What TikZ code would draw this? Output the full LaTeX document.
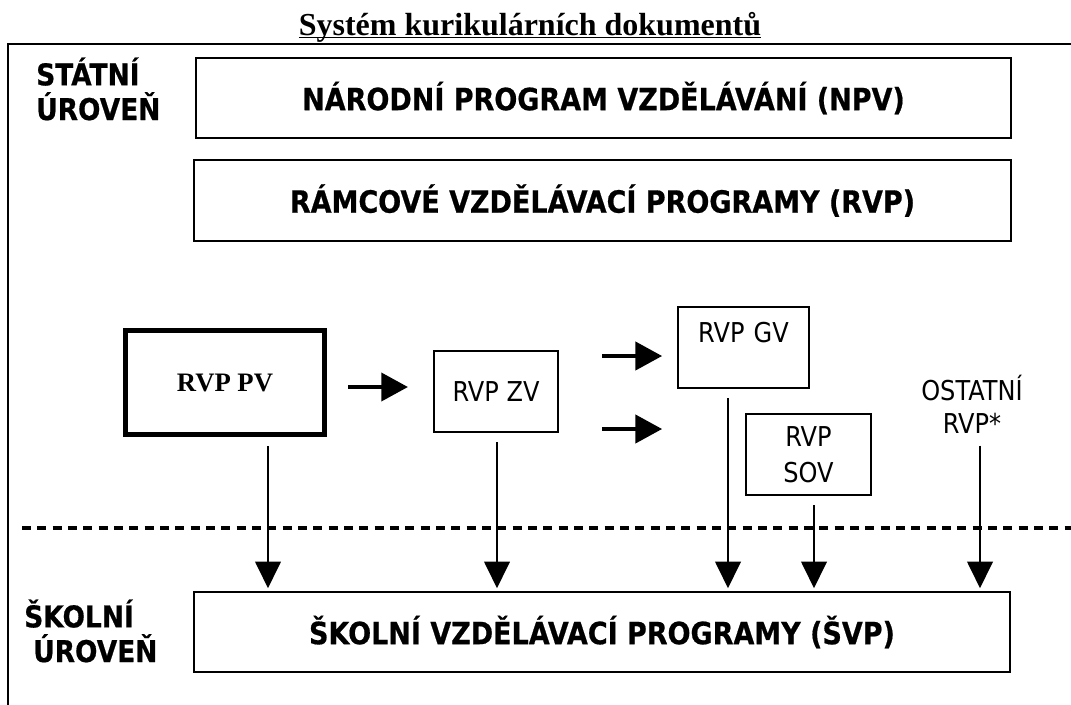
\documentclass[tikz,border=0pt]{standalone}
\usepackage{fontspec}
\setmainfont{Liberation Serif}
\newfontfamily\tahoma[FakeStretch=0.88, BoldFeatures={FakeBold=0.6}]{DejaVu Sans}
\usetikzlibrary{arrows.meta,calc}
\tikzset{
    box/.style={draw, line width=1.6pt, inner sep=0pt},
    bigtext/.style={font=\tahoma\bfseries\fontsize{23}{27}\selectfont},
    smalltext/.style={font=\tahoma\fontsize{20.5}{27}\selectfont},
    level/.style={font=\tahoma\bfseries\fontsize{22.5}{26}\selectfont, align=left, inner sep=0pt},
    fatarrow/.style={line width=3pt, -{Triangle[length=20pt,width=21pt]}},
    downarrow/.style={line width=2.2pt, -{Triangle[length=20pt,width=19pt]}, shorten <=7pt, shorten >=2pt}
}

\begin{document}
\begin{tikzpicture}[x=0.75pt,y=-0.75pt]
\useasboundingbox (0,0) rectangle (1071,704);
\node[font=\bfseries\fontsize{24}{28}\selectfont, anchor=base] (title) at (530,35) {\underline{\smash{Systém kurikulárních dokumentů}}};
\draw[line width=1.6pt] (8,710) -- (8,44) -- (1080,44);
\node[level, anchor=west] (statni) at (36,89) {STÁTNÍ\\ÚROVEŇ};
\node[level, anchor=west] (skolni) at (24,631) {ŠKOLNÍ\\\hspace*{6.75pt}ÚROVEŇ};
\node[box, bigtext, minimum width=611pt, minimum height=60pt] (npv) at (603.5,98) {NÁRODNÍ PROGRAM VZDĚLÁVÁNÍ (NPV)};
\node[box, bigtext, minimum width=612.5pt, minimum height=60.5pt] (rvp) at (602.5,200.5) {RÁMCOVÉ VZDĚLÁVACÍ PROGRAMY (RVP)};
\node[box, line width=4pt, font=\bfseries\fontsize{20}{24}\selectfont, minimum width=149pt, minimum height=77.75pt] (pv) at (225,382.5) {RVP PV};
\node[box, smalltext, minimum width=93pt, minimum height=60.5pt] (zv) at (496,391.5) {RVP ZV};
\node[box, smalltext, minimum width=98pt, text height=26.25pt, text depth=34.5pt, text width=98pt, align=center] (gv) at (743.5,347.5) {RVP GV};
\node[box, smalltext, align=center, minimum width=93.5pt, minimum height=60.5pt] (sov) at (808.5,454.5) {RVP\\SOV};
\node[smalltext, align=center, inner sep=2pt, font=\tahoma\fontsize{20.5}{25}\selectfont] (ost) at (972,404) {OSTATNÍ\\RVP*};
\node[box, bigtext, minimum width=612pt, minimum height=60pt] (svp) at (602,632) {ŠKOLNÍ VZDĚLÁVACÍ PROGRAMY (ŠVP)};
\draw[line width=3pt, dash pattern=on 6.8pt off 4.7pt] (22,528) -- (1071,528);
\draw[fatarrow, shorten <=15.75pt, shorten >=18.75pt] (pv.east |- 0,387) -- (zv.west |- 0,387);
\draw[fatarrow, shorten <=32.25pt, shorten >=11.25pt] (zv.east |- 0,356) -- (gv.west |- 0,356);
\draw[fatarrow, shorten <=32.25pt, shorten >=11.25pt] (zv.east |- 0,429) -- (gv.west |- 0,429);
\foreach \src/\xx in {pv/268, zv/497, gv/728, sov/814, ost/980}
  \draw[downarrow] (\xx,0 |- \src.south) -- (\xx,0 |- svp.north);
\end{tikzpicture}
\end{document}
